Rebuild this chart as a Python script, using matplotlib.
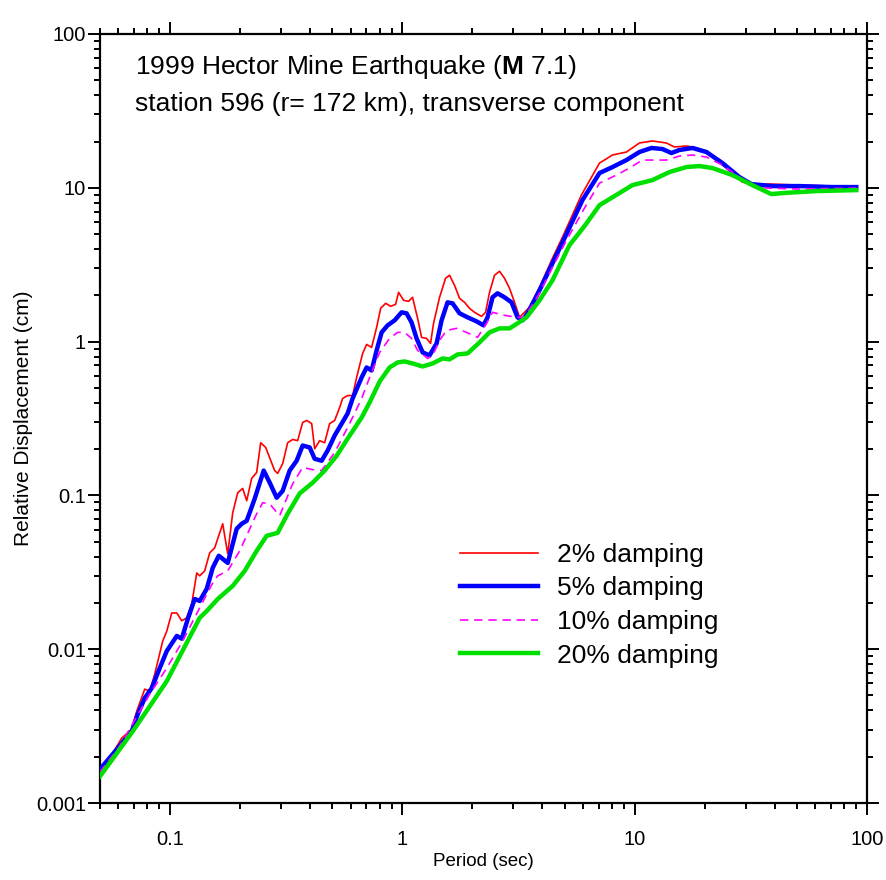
import matplotlib
matplotlib.use("Agg")
import matplotlib.pyplot as plt
from matplotlib.ticker import LogLocator, FixedLocator, NullFormatter, FixedFormatter

plt.rcParams['font.family'] = ['Liberation Sans', 'DejaVu Sans']
plt.rcParams['mathtext.fontset'] = 'custom'
plt.rcParams['mathtext.rm'] = 'Liberation Sans'
plt.rcParams['mathtext.bf'] = 'Liberation Sans:bold'

# ---------------- data (period in s, relative displacement in cm) ----------------
p2 = [0.05, 0.0551, 0.0620, 0.0685, 0.0720, 0.0779, 0.0819, 0.0860, 0.0931, 0.0969,
      0.1018, 0.1070, 0.1124, 0.1181, 0.1241, 0.1304, 0.1343, 0.1411, 0.1483, 0.1558,
      0.1687, 0.1773, 0.1863, 0.1957, 0.2056, 0.2140, 0.2248, 0.2362, 0.2458, 0.2582,
      0.2823, 0.2908, 0.3056, 0.3211, 0.3374, 0.3545, 0.3725, 0.3877, 0.4074, 0.4197,
      0.4409, 0.4633, 0.4868, 0.5115, 0.5375, 0.5537, 0.5818, 0.6113, 0.6360, 0.6751,
      0.7023, 0.7379, 0.7753, 0.8069, 0.8478, 0.8907, 0.9359, 0.9640, 1.013, 1.064,
      1.107, 1.164, 1.211, 1.272, 1.323, 1.363, 1.447, 1.535, 1.597, 1.678,
      1.764, 1.853, 1.948, 2.046, 2.193, 2.282, 2.374, 2.494, 2.621, 2.754,
      2.894, 3.041, 3.195, 3.527, 3.895, 4.43, 4.89, 5.90, 7.06, 8.03,
      9.22, 10.49, 11.93, 13.70, 14.84, 16.70, 18.63, 20.98, 24.82, 29.08,
      32.11, 39.14, 51.15, 70.9, 89.9]
d2 = [0.00168, 0.00196, 0.00264, 0.00302, 0.00396, 0.00550, 0.00534, 0.00689, 0.0113, 0.0131,
      0.0172, 0.0172, 0.0153, 0.0160, 0.0197, 0.0313, 0.0300, 0.0323, 0.0423, 0.0456,
      0.0654, 0.0417, 0.0772, 0.104, 0.111, 0.0924, 0.129, 0.141, 0.220, 0.205,
      0.145, 0.139, 0.161, 0.220, 0.231, 0.227, 0.298, 0.307, 0.293, 0.201,
      0.227, 0.220, 0.293, 0.307, 0.373, 0.427, 0.446, 0.446, 0.585, 0.838,
      0.959, 0.917, 1.237, 1.645, 1.774, 1.696, 1.747, 2.092, 1.855, 1.827,
      1.941, 1.416, 1.065, 1.049, 0.973, 1.314, 1.941, 2.580, 2.700, 2.323,
      1.911, 1.800, 1.645, 1.550, 1.459, 1.550, 2.092, 2.700, 2.867, 2.580,
      2.222, 1.800, 1.438, 1.671, 2.255, 3.484, 4.774, 8.97, 14.49, 16.34,
      17.09, 19.56, 20.16, 19.56, 18.42, 18.70, 18.15, 16.34, 13.44, 10.89,
      10.57, 10.57, 10.41, 10.26, 10.11]

p5 = [0.05, 0.0568, 0.0685, 0.0727, 0.0779, 0.0835, 0.0886, 0.0969, 0.1070, 0.1124,
      0.1193, 0.1278, 0.1343, 0.1440, 0.1528, 0.1622, 0.1773, 0.1938, 0.2036, 0.2140,
      0.2316, 0.2532, 0.2688, 0.2880, 0.3056, 0.3275, 0.3510, 0.3725, 0.3994, 0.4197,
      0.4496, 0.4774, 0.5115, 0.5818, 0.6113, 0.6685, 0.7023, 0.7379, 0.7753, 0.8147,
      0.8645, 0.9266, 0.9931, 1.043, 1.096, 1.152, 1.223, 1.310, 1.405, 1.476,
      1.566, 1.645, 1.764, 1.910, 2.087, 2.237, 2.327, 2.445, 2.570, 2.754,
      2.952, 3.133, 3.292, 3.459, 3.895, 4.43, 4.99, 5.96, 7.06, 8.03,
      9.22, 10.49, 11.81, 13.17, 14.40, 15.58, 17.73, 20.37, 23.86, 28.23,
      31.79, 39.14, 51.15, 70.9, 89.9]
d5 = [0.00166, 0.00208, 0.00293, 0.00378, 0.00481, 0.00559, 0.00700, 0.00973, 0.0122, 0.0117,
      0.0157, 0.0212, 0.0206, 0.0247, 0.0338, 0.0405, 0.0364, 0.0607, 0.0654, 0.0684,
      0.0952, 0.145, 0.121, 0.0966, 0.107, 0.145, 0.168, 0.211, 0.205, 0.173,
      0.168, 0.196, 0.245, 0.341, 0.427, 0.585, 0.679, 0.649, 0.876, 1.148,
      1.275, 1.374, 1.550, 1.527, 1.334, 1.049, 0.851, 0.813, 0.973, 1.374,
      1.800, 1.774, 1.527, 1.438, 1.354, 1.275, 1.438, 1.941, 2.061, 1.941,
      1.800, 1.438, 1.374, 1.527, 2.156, 3.232, 4.702, 8.32, 12.47, 13.64,
      15.15, 17.09, 18.15, 17.87, 16.83, 17.61, 18.15, 17.09, 14.49, 11.74,
      10.57, 10.26, 10.26, 10.11, 10.11]

p10 = [0.05, 0.0608, 0.0819, 0.0969, 0.1135, 0.1343, 0.1528, 0.1606, 0.1773, 0.1996,
       0.2362, 0.2507, 0.2688, 0.2967, 0.3374, 0.3725, 0.4115, 0.4496, 0.5115, 0.5934,
       0.6685, 0.7233, 0.7988, 0.8818, 0.9545, 1.023, 1.096, 1.164, 1.211, 1.285,
       1.350, 1.447, 1.550, 1.712, 1.890, 2.108, 2.305, 2.445, 2.754, 3.102,
       3.357, 3.895, 4.43, 5.09, 6.08, 7.06, 8.35, 9.50, 10.80, 12.17,
       13.70, 15.58, 17.73, 20.37, 23.86, 28.23, 32.11, 36.89, 51.15, 89.9]
d10 = [0.00159, 0.00234, 0.00511, 0.00754, 0.0113, 0.0186, 0.0270, 0.0300, 0.0323, 0.0436,
       0.0760, 0.0896, 0.0880, 0.0738, 0.119, 0.152, 0.147, 0.145, 0.190, 0.293,
       0.427, 0.585, 0.851, 1.049, 1.148, 1.148, 1.049, 0.876, 0.838, 0.777,
       0.813, 1.018, 1.183, 1.219, 1.148, 1.065, 1.314, 1.550, 1.482, 1.438,
       1.438, 2.061, 3.044, 4.563, 7.375, 10.73, 12.10, 13.44, 15.15, 15.15,
       15.15, 16.09, 16.34, 15.85, 14.06, 11.74, 10.41, 9.96, 9.81, 9.96]

p20 = [0.05, 0.0692, 0.0819, 0.0969, 0.1343, 0.1440, 0.1606, 0.1863, 0.2098, 0.2362,
       0.2608, 0.2908, 0.3211, 0.3617, 0.4115, 0.4633, 0.5217, 0.5818, 0.6685, 0.7233,
       0.7988, 0.8818, 0.9545, 1.023, 1.107, 1.223, 1.350, 1.491, 1.597, 1.729,
       1.910, 2.150, 2.374, 2.621, 2.894, 3.133, 3.424, 3.895, 4.43, 5.24,
       6.08, 7.06, 8.60, 9.78, 11.93, 14.12, 16.70, 19.00, 21.61, 26.34,
       32.11, 38.75, 43.22, 60.5, 89.9]
d20 = [0.00149, 0.00293, 0.00426, 0.00620, 0.0160, 0.0177, 0.0212, 0.0258, 0.0323, 0.0436,
       0.0546, 0.0571, 0.0760, 0.103, 0.121, 0.145, 0.181, 0.234, 0.321, 0.402,
       0.550, 0.679, 0.732, 0.743, 0.721, 0.689, 0.721, 0.777, 0.766, 0.825,
       0.838, 0.988, 1.148, 1.219, 1.219, 1.314, 1.438, 1.855, 2.504, 4.234,
       5.628, 7.715, 9.238, 10.41, 11.22, 12.66, 13.64, 13.85, 13.44, 12.10,
       10.41, 9.10, 9.24, 9.52, 9.66]

labels = ["2% damping", "5% damping", "10% damping", "20% damping"]
title_lines = [r"1999 Hector Mine Earthquake ($\mathbf{M}$ 7.1)",
               "station 596 (r= 172 km), transverse component"]
x_ticks = [0.1, 1, 10, 100]
x_ticklabels = ["0.1", "1", "10", "100"]
y_ticks = [0.001, 0.01, 0.1, 1, 10, 100]
y_ticklabels = ["0.001", "0.01", "0.1", "1", "10", "100"]

# ---------------- figure ----------------
fig = plt.figure(figsize=(8.87, 8.80), dpi=100)
ax = fig.add_axes([100/887, 77/880, 767/887, 769/880])

ax.plot(p2, d2, color='#ff0000', lw=1.2, label=labels[0], zorder=3)
ax.plot(p5, d5, color='#0000ff', lw=3.2, label=labels[1], zorder=4)
ax.plot(p10, d10, color='#ff00ff', lw=1.2, ls=(0, (5, 3.5)), label=labels[2], zorder=5)
ax.plot(p20, d20, color='#00e000', lw=3.2, label=labels[3], zorder=6)

ax.set_xscale('log')
ax.set_yscale('log')
ax.set_xlim(0.05, 100)
ax.set_ylim(0.001, 100)

ax.xaxis.set_major_locator(FixedLocator(x_ticks))
ax.xaxis.set_major_formatter(FixedFormatter(x_ticklabels))
ax.yaxis.set_major_locator(FixedLocator(y_ticks))
ax.yaxis.set_major_formatter(FixedFormatter(y_ticklabels))
ax.xaxis.set_minor_locator(LogLocator(base=10, subs=range(2, 10), numticks=20))
ax.yaxis.set_minor_locator(LogLocator(base=10, subs=range(2, 10), numticks=20))
ax.xaxis.set_minor_formatter(NullFormatter())
ax.yaxis.set_minor_formatter(NullFormatter())

ax.tick_params(which='both', direction='out', top=True, right=True,
               width=1.4, labelsize=14.5, colors='black')
ax.tick_params(which='major', length=8.5)
ax.tick_params(which='minor', length=4)
ax.tick_params(axis='y', which='major', pad=1.5)
ax.tick_params(axis='x', which='major', pad=11)
for s in ax.spines.values():
    s.set_linewidth(1.6)

ax.set_xlabel("Period (sec)", fontsize=13.5, labelpad=3)
ax.set_ylabel("Relative Displacement (cm)", fontsize=15, labelpad=2)

fig.text(135/887, 1 - 67/880, title_lines[0], fontsize=19, va='center', ha='left')
fig.text(135/887, 1 - 104/880, title_lines[1], fontsize=19, va='center', ha='left')

leg = ax.legend(loc='upper left', bbox_to_anchor=(360/767, 1 - (543 - 34)/769),
                frameon=False, fontsize=19, handlelength=2.95, handletextpad=0.72,
                labelspacing=0.36, borderaxespad=0, borderpad=0)

fig.savefig("out.png", dpi=100)
